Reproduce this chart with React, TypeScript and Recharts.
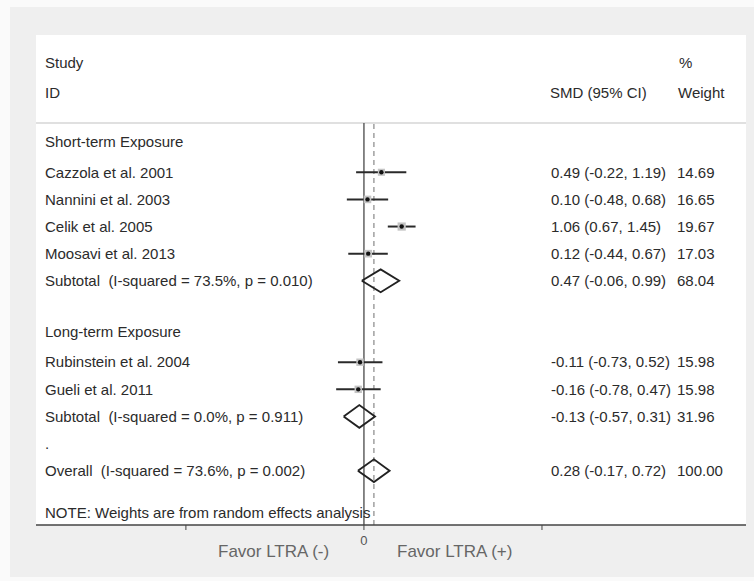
import React from "react";
import {
  ScatterChart,
  Scatter,
  XAxis,
  YAxis,
  ErrorBar,
  ReferenceLine,
} from "recharts";

// rows of the forest plot, top to bottom
const rowLabels = [
  "Short-term Exposure",
  "Cazzola et al. 2001",
  "Nannini et al. 2003",
  "Celik et al. 2005",
  "Moosavi et al. 2013",
  "Subtotal  (I-squared = 73.5%, p = 0.010)",
  "",
  "Long-term Exposure",
  "Rubinstein et al. 2004",
  "Gueli et al. 2011",
  "Subtotal  (I-squared = 0.0%, p = 0.911)",
  ".",
  "Overall  (I-squared = 73.6%, p = 0.002)",
];
const rowKinds = [
  "group", "study", "study", "study", "study", "pooled",
  "blank", "group", "study", "study", "pooled", "blank", "pooled",
];
const smd = [null, 0.49, 0.1, 1.06, 0.12, 0.47, null, null, -0.11, -0.16, -0.13, null, 0.28];
const lower = [null, -0.22, -0.48, 0.67, -0.44, -0.06, null, null, -0.73, -0.78, -0.57, null, -0.17];
const upper = [null, 1.19, 0.68, 1.45, 0.67, 0.99, null, null, 0.52, 0.47, 0.31, null, 0.72];
const weights = [null, 14.69, 16.65, 19.67, 17.03, 68.04, null, null, 15.98, 15.98, 31.96, null, 100.0];

const overallEffect = 0.28;
const xTicks = [-5, 0, 5];

const FONT = '"Liberation Sans", Arial, sans-serif';
const TEXT = "#2b2b2b";

const fmt = (v: number) => v.toFixed(2);

const rowIdx = rowLabels.map((_, i) => i);

const studies = rowIdx
  .filter((i) => rowKinds[i] === "study")
  .map((i) => ({
    x: smd[i] as number,
    y: i,
    w: weights[i] as number,
    err: [(smd[i] as number) - (lower[i] as number), (upper[i] as number) - (smd[i] as number)],
  }));

const diamonds = rowIdx
  .filter((i) => rowKinds[i] === "pooled")
  .map((i) => {
    const h = 0.42;
    return [
      { x: lower[i] as number, y: i },
      { x: smd[i] as number, y: i - h },
      { x: upper[i] as number, y: i },
      { x: smd[i] as number, y: i + h },
      { x: lower[i] as number, y: i },
    ];
  });

// one invisible point per row, used only to place the row's text
const textRows = rowIdx.map((i) => ({ x: 0, y: i, row: i }));

const StudyMarker = (props: any) => {
  const { cx, cy, payload } = props;
  const side = 1.85 * Math.sqrt(payload.w);
  return (
    <g>
      <rect x={cx - side / 2} y={cy - side / 2} width={side} height={side} fill="#c4c4c4" />
      <circle cx={cx} cy={cy} r={2.2} fill="#111" />
    </g>
  );
};

const RowText = (props: any) => {
  const { cy, payload } = props;
  const i = payload.row as number;
  const dy = rowKinds[i] === "group" ? -3 : 0;
  return (
    <g fontFamily={FONT} fontSize={15} fill={TEXT}>
      <text x={45} y={cy + dy} dy="0.35em" textAnchor="start" style={{ whiteSpace: "pre" }}>
        {rowLabels[i]}
      </text>
      {smd[i] !== null && (
        <>
          <text x={551} y={cy} dy="0.35em" textAnchor="start">
            {`${fmt(smd[i] as number)} (${fmt(lower[i] as number)}, ${fmt(upper[i] as number)})`}
          </text>
          <text x={677} y={cy} dy="0.35em" textAnchor="start">
            {fmt(weights[i] as number)}
          </text>
        </>
      )}
    </g>
  );
};

const textStyle: React.CSSProperties = {
  position: "absolute",
  fontFamily: FONT,
  fontSize: 15,
  lineHeight: "15px",
  color: TEXT,
  whiteSpace: "pre",
};

export default function App() {
  return (
    <div style={{ position: "absolute", left: 0, top: 0, width: 754, height: 581, background: "#fafafa" }}>
      <div style={{ position: "absolute", left: 10, top: 7, width: 744, height: 570, background: "#efefef" }} />
      <div style={{ position: "absolute", left: 36, top: 35, width: 710, height: 490, background: "#fff" }} />

      <div style={{ ...textStyle, left: 45, top: 55 }}>Study</div>
      <div style={{ ...textStyle, left: 45, top: 85 }}>ID</div>
      <div style={{ ...textStyle, left: 679, top: 55 }}>%</div>
      <div style={{ ...textStyle, left: 550, top: 85 }}>SMD (95% CI)</div>
      <div style={{ ...textStyle, left: 678, top: 85 }}>Weight</div>

      <div style={{ position: "absolute", left: 0, top: 0 }}>
        <ScatterChart
          width={754}
          height={581}
          margin={{ top: 123, right: 8, bottom: 26, left: 36 }}
        >
          <XAxis
            type="number"
            dataKey="x"
            domain={[-9.21, 10.73]}
            ticks={xTicks}
            allowDataOverflow
            height={30}
            axisLine={{ stroke: "#444", strokeWidth: 1.4 }}
            tickLine={{ stroke: "#444" }}
            tickSize={5}
            tickMargin={6}
            tickFormatter={(v: number) => (v === 0 ? "0" : "")}
            tick={{ fontSize: 13, fill: "#555", fontFamily: FONT }}
          />
          <YAxis
            type="number"
            dataKey="y"
            domain={[-0.816, 14]}
            reversed
            hide
            allowDataOverflow
          />
          <ReferenceLine y={-0.816} stroke="#e0e0e0" strokeWidth={2} />
          <ReferenceLine x={0} stroke="#555" strokeWidth={1.4} />
          <ReferenceLine x={overallEffect} stroke="#888" strokeDasharray="5 4" strokeWidth={1.2} />
          <Scatter data={textRows} shape={<RowText />} isAnimationActive={false} />
          <Scatter data={studies} shape={<StudyMarker />} isAnimationActive={false}>
            <ErrorBar dataKey="err" direction="x" width={0} stroke="#2a2a2a" strokeWidth={2} />
          </Scatter>
          {diamonds.map((d, k) => (
            <Scatter
              key={k}
              data={d}
              line={{ stroke: "#222", strokeWidth: 1.9 }}
              shape={() => <g />}
              isAnimationActive={false}
            />
          ))}
        </ScatterChart>
      </div>

      <div style={{ ...textStyle, left: 45, top: 505 }}>NOTE: Weights are from random effects analysis</div>
      <div style={{ ...textStyle, fontSize: 17, lineHeight: "17px", color: "#666", left: 218, top: 543 }}>
        Favor LTRA (-)
      </div>
      <div style={{ ...textStyle, fontSize: 17, lineHeight: "17px", color: "#666", left: 397, top: 543 }}>
        Favor LTRA (+)
      </div>
    </div>
  );
}
